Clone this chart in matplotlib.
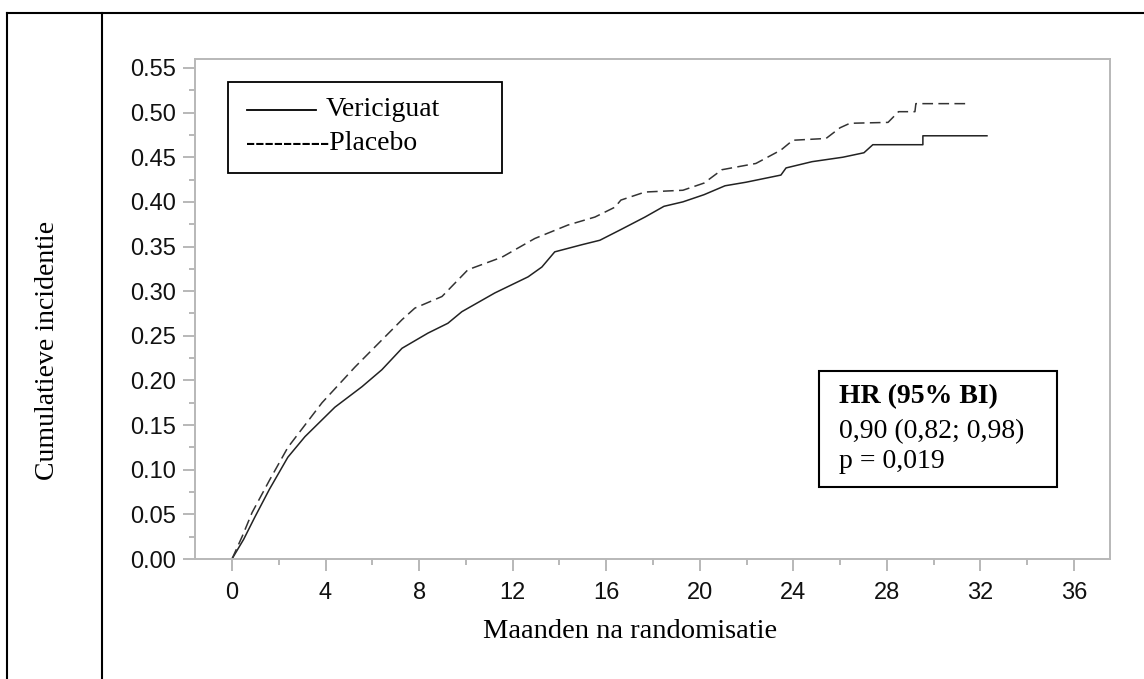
import matplotlib
matplotlib.use("Agg")
import matplotlib.pyplot as plt
from matplotlib.patches import Rectangle
from matplotlib.lines import Line2D

# ---- data ----
veri_months = [0.0, 0.5, 0.98, 1.6, 2.39, 3.12, 4.40, 5.56, 6.41, 7.27, 8.38, 9.23, 9.83,
               11.24, 12.66, 13.25, 13.8, 14.96, 15.73, 16.63, 17.66, 18.47, 19.28, 20.18,
               21.08, 21.98, 23.47, 23.69, 24.80, 26.12, 27.02, 27.40, 29.54, 29.54, 32.28]
veri_inc = [0.0, 0.022, 0.047, 0.078, 0.114, 0.137, 0.170, 0.193, 0.212, 0.236, 0.253, 0.264, 0.277,
            0.298, 0.316, 0.327, 0.344, 0.352, 0.357, 0.369, 0.383, 0.395, 0.400, 0.408,
            0.418, 0.422, 0.430, 0.438, 0.445, 0.450, 0.455, 0.464, 0.464, 0.474, 0.474]

plac_months = [0.0, 0.45, 0.86, 1.6, 2.39, 3.85, 5.26, 7.27, 7.82, 8.98, 10.09, 11.54, 12.95,
               14.36, 15.52, 16.37, 16.63, 17.66, 19.28, 20.18, 20.95, 22.4, 23.47, 23.98,
               25.4, 26.0, 26.42, 28.05, 28.5, 29.2, 29.24, 31.55]
plac_inc = [0.0, 0.026, 0.052, 0.088, 0.125, 0.175, 0.215, 0.268, 0.281, 0.294, 0.324, 0.338, 0.359,
            0.374, 0.383, 0.394, 0.402, 0.411, 0.413, 0.421, 0.436, 0.443, 0.458, 0.469,
            0.471, 0.483, 0.488, 0.489, 0.501, 0.501, 0.510, 0.510]

x_ticks = [0, 4, 8, 12, 16, 20, 24, 28, 32, 36]
y_ticks = [0.00, 0.05, 0.10, 0.15, 0.20, 0.25, 0.30, 0.35, 0.40, 0.45, 0.50, 0.55]
series_names = ["Vericiguat", "Placebo"]
hr_lines = ["HR (95% BI)", "0,90 (0,82; 0,98)", "p = 0,019"]
x_label = "Maanden na randomisatie"
y_label = "Cumulatieve incidentie"

# ---- figure ----
W, H = 1144, 679
fig = plt.figure(figsize=(W / 100, H / 100), dpi=100)
serif = ["Liberation Serif", "DejaVu Serif"]
sans = ["Liberation Sans", "DejaVu Sans"]

def fx(px):
    return px / W

def fy(py):
    return 1 - py / H

# table-like frame lines
fig.add_artist(Line2D([fx(7), 1.0], [fy(13), fy(13)], color="black", lw=1.5))
fig.add_artist(Line2D([fx(7), fx(7)], [fy(13), 0.0], color="black", lw=1.5))
fig.add_artist(Line2D([fx(102), fx(102)], [fy(13), 0.0], color="black", lw=1.5))

ax = fig.add_axes([fx(195), fy(559), fx(1110) - fx(195), fy(59) - fy(559)])
ax.plot(veri_months, veri_inc, color="#222222", lw=1.1, ls="-")
ax.plot(plac_months, plac_inc, color="#333333", lw=1.1, ls=(0, (7, 3.5)))

ax.set_xlim(-1.58, 37.54)
ax.set_ylim(0.0, 0.560)
ax.set_xticks(x_ticks)
ax.set_xticks([t + 2 for t in x_ticks[:-1]], minor=True)
ax.set_yticks(y_ticks)
ax.set_yticks([t + 0.025 for t in y_ticks[:-1]], minor=True)
ax.set_xticklabels([str(t) for t in x_ticks])
ax.set_yticklabels([f"{t:.2f}" for t in y_ticks])

spine_col = "#b8b8b8"
for s in ax.spines.values():
    s.set_color(spine_col)
    s.set_linewidth(1.4)
ax.tick_params(which="major", length=8.6, width=1.4, color=spine_col, labelsize=17,
               labelcolor="#111111")
ax.tick_params(which="minor", length=4.3, width=1.4, color=spine_col)
ax.tick_params(axis="x", which="major", pad=8)
ax.tick_params(axis="y", which="major", pad=5)
for lab in ax.get_xticklabels() + ax.get_yticklabels():
    lab.set_family(sans)

# axis labels
fig.text(fx(630), fy(632), x_label, family=serif, fontsize=20.5, ha="center", va="center")
fig.text(fx(48), fy(350), y_label, family=serif, fontsize=20, ha="center", va="center",
         rotation=90)

# legend box
fig.add_artist(Rectangle((fx(228), fy(173)), fx(502) - fx(228), fy(82) - fy(173),
                         transform=fig.transFigure, fill=False, edgecolor="black", lw=1.3))
fig.add_artist(Line2D([fx(247), fx(316)], [fy(110), fy(110)], color="black", lw=1.3))
fig.text(fx(326), fy(110), series_names[0], family=serif, fontsize=20, ha="left", va="center")
fig.text(fx(246), fy(143), "---------" + series_names[1], family=serif, fontsize=20,
         ha="left", va="center")

# HR box
fig.add_artist(Rectangle((fx(819), fy(487)), fx(1057) - fx(819), fy(371) - fy(487),
                         transform=fig.transFigure, fill=False, edgecolor="black", lw=1.5))
hr_y = [397, 432, 462]
for i, (t, yy) in enumerate(zip(hr_lines, hr_y)):
    fig.text(fx(839), fy(yy), t, family=serif, fontsize=20, ha="left", va="center",
             fontweight="bold" if i == 0 else "normal")

fig.savefig("out.png", dpi=100, facecolor="white")
